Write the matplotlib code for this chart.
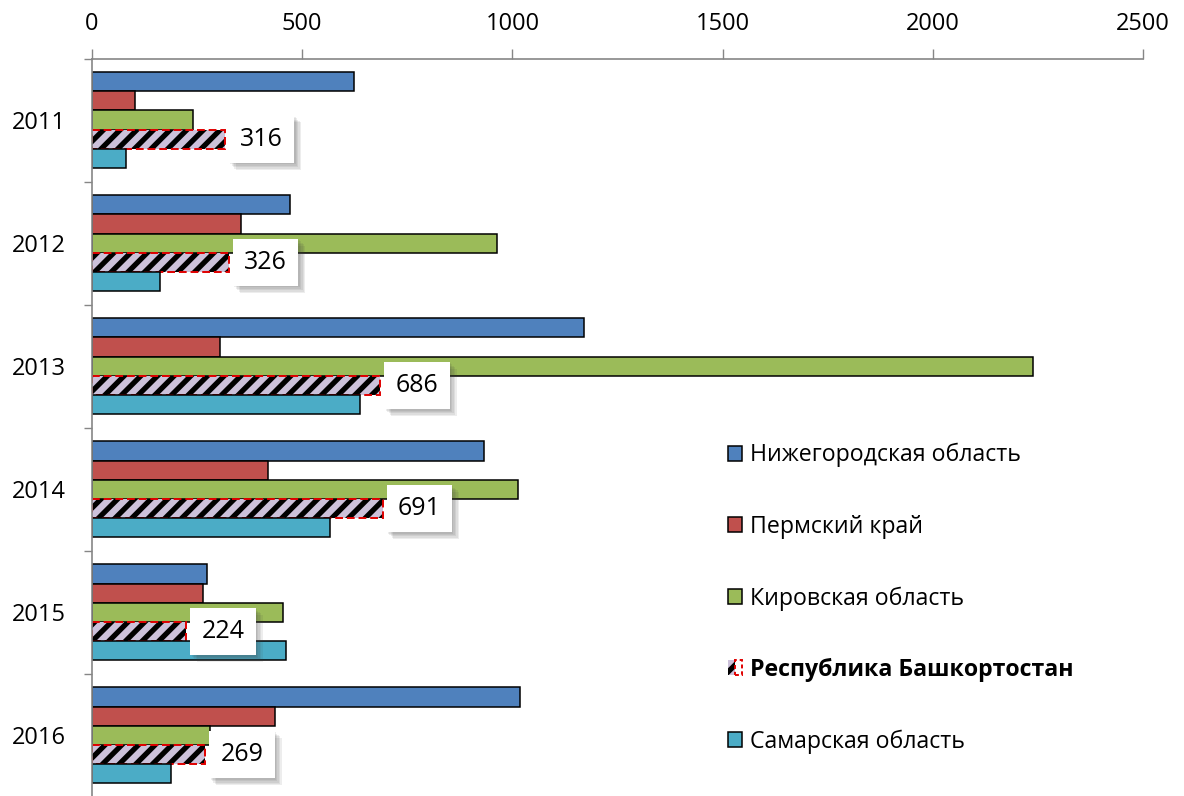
import matplotlib
matplotlib.use('agg')
import numpy as np
import matplotlib.pyplot as plt
import matplotlib.patheffects as pe
from matplotlib.patches import Patch
from matplotlib.legend_handler import HandlerTuple

plt.rcParams['font.family'] = ['Open Sans', 'DejaVu Sans']
plt.rcParams['hatch.linewidth'] = 3.8

years = ['2011', '2012', '2013', '2014', '2015', '2016']
nizh = [623, 471, 1170, 932, 274, 1018]
perm = [102, 354, 304, 419, 264, 435]
kirov = [240, 963, 2238, 1013, 454, 281]
bash = [316, 326, 686, 691, 224, 269]
samara = [81, 162, 637, 566, 461, 188]

names = ['Нижегородская область', 'Пермский край', 'Кировская область',
         'Республика Башкортостан', 'Самарская область']
colors = ['#4F81BD', '#C0504D', '#9BBB59', '#CCC1DA', '#4BACC6']

fig = plt.figure(figsize=(11.84, 7.96), dpi=100)
ax = fig.add_axes([0.0777, -0.0013, 0.8877, 0.9278])

y = np.arange(len(years))
h = 0.156
series = [nizh, perm, kirov, bash, samara]
handles = []

# soft shadow for the data label boxes
shadow = [pe.SimplePatchShadow(offset=(d, -d), shadow_rgbFace='#404040', alpha=0.09)
          for d in (5, 4, 3, 2, 1)]

for i, vals in enumerate(series):
    pos = y + (i - 2) * h
    if i == 3:
        ax.barh(pos, vals, height=h, color=colors[i], edgecolor='black',
                hatch='//', linewidth=0)
        ax.barh(pos, vals, height=h, color='none', edgecolor='#E00000',
                linestyle=(0, (4, 2)), linewidth=1.4)
        handles.append((Patch(facecolor=colors[i], edgecolor='black', hatch='/', linewidth=0),
                        Patch(facecolor='none', edgecolor='#E00000', linestyle=(0, (2, 1.5)), linewidth=1.4)))
        # data labels
        for yy, v in zip(pos, vals):
            t = ax.annotate(str(v), (v, yy), xytext=(11, 0), textcoords='offset points',
                            ha='left', va='center', fontsize=18,
                            bbox=dict(boxstyle='square,pad=0.45', facecolor='white', edgecolor='none'))
            t.get_bbox_patch().set_path_effects(shadow + [pe.Normal()])
    else:
        ax.barh(pos, vals, height=h, color=colors[i], edgecolor='black', linewidth=1.1)
        handles.append(Patch(facecolor=colors[i], edgecolor='black', linewidth=1.1))

ax.set_xlim(0, 2500)
ax.set_ylim(len(years) - 0.5, -0.5)
ax.set_xticks([0, 500, 1000, 1500, 2000, 2500])
ax.xaxis.tick_top()
ax.tick_params(axis='x', direction='out', length=7, width=1, color='#868686',
               labelsize=17, pad=9)
ax.set_yticks(y)
ax.set_yticklabels(years)
ax.tick_params(axis='y', which='major', length=0, labelsize=17, pad=19)
ax.set_yticks(np.arange(-0.5, len(years) + 0.5, 1), minor=True)
ax.tick_params(axis='y', which='minor', length=6, width=1, color='#868686', direction='out')

for s in ['right', 'bottom']:
    ax.spines[s].set_visible(False)
for s in ['left', 'top']:
    ax.spines[s].set_color('#868686')
    ax.spines[s].set_linewidth(1.2)

leg = fig.legend(handles, names, loc='upper left', bbox_to_anchor=(728 / 1184, 1 - 443 / 796),
                 frameon=False, fontsize=16.7, handlelength=0.62, handleheight=0.62,
                 handletextpad=0.35, labelspacing=2.045, borderpad=0, borderaxespad=0,
                 handler_map={tuple: HandlerTuple(ndivide=None, pad=0)})
leg.get_texts()[3].set_fontweight('bold')

fig.savefig('out.png', dpi=100)
